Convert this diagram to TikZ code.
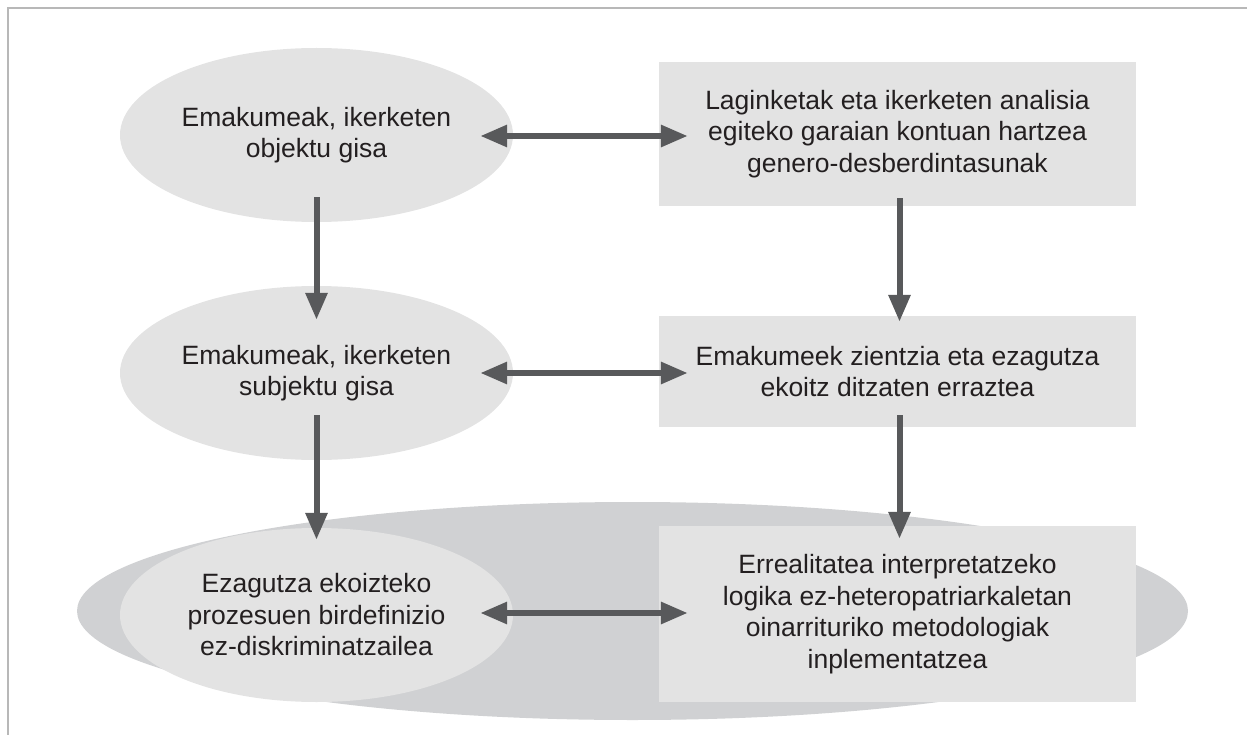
\documentclass[tikz,border=0pt]{standalone}
\usepackage{fontspec}
\setmainfont{Liberation Sans}
\usetikzlibrary{arrows.meta,shapes.geometric}
\definecolor{lightfill}{HTML}{E3E3E3}
\definecolor{darkfill}{HTML}{D0D1D3}
\definecolor{arrowgrey}{HTML}{58595B}
\definecolor{textgrey}{HTML}{231F20}
\definecolor{framegrey}{HTML}{B8B8B8}
\begin{document}
\begin{tikzpicture}[x=1pt,y=-1pt,
  txt/.style={align=center, text=textgrey, font=\fontsize{26.5}{31.5}\selectfont},
  ell/.style={txt, ellipse, fill=lightfill, minimum width=393pt, minimum height=174pt, inner sep=0pt},
  box/.style={txt, rectangle, fill=lightfill, minimum width=477pt, inner sep=0pt},
  arr/.style={draw=arrowgrey, line width=6pt, -{Triangle[length=27pt,width=21pt]}},
  darr/.style={draw=arrowgrey, line width=6pt, {Triangle[length=27pt,width=21pt]}-{Triangle[length=27pt,width=21pt]}}]
\useasboundingbox (0,0) rectangle (1247,735);
\draw[framegrey, line width=1.5pt] (8,735) -- (8,8) -- (1247,8);
\node[ellipse, fill=darkfill, minimum width=1111pt, minimum height=218pt, inner sep=0pt] (big) at (632.5,611) {};
\node[ell] (e1) at (316.5,135) {Emakumeak, ikerketen\\objektu gisa};
\node[ell] (e2) at (316.5,373) {Emakumeak, ikerketen\\subjektu gisa};
\node[ell] (e3) at (316.5,615) {Ezagutza ekoizteko\\prozesuen birdefinizio\\ez-diskriminatzailea};
\node[box, minimum height=144pt] (r1) at (897.5,134) {Laginketak eta ikerketen analisia\\egiteko garaian kontuan hartzea\\genero-desberdintasunak};
\node[box, minimum height=111pt] (r2) at (897.5,371.5) {Emakumeek zientzia eta ezagutza\\ekoitz ditzaten erraztea};
\node[box, minimum height=176pt] (r3) at (897.5,614) {Errealitatea interpretatzeko\\logika ez-heteropatriarkaletan\\oinarrituriko metodologiak\\inplementatzea};
\draw[arr] ([yshift=25pt]e1.south) -- ([yshift=-34pt]e2.north);
\draw[arr] ([yshift=45pt]e2.south) -- ([yshift=-12pt]e3.north);
\draw[arr] ([xshift=2pt,yshift=8pt]r1.south) -- ([xshift=2pt,yshift=-6pt]r2.north);
\draw[arr] ([xshift=2pt,yshift=12pt]r2.south) -- ([xshift=2pt,yshift=-13pt]r3.north);
\draw[darr] ([xshift=-33pt,yshift=-1pt]e1.east) -- ([xshift=29pt,yshift=-2pt]r1.west);
\draw[darr] ([xshift=-33pt,yshift=0pt]e2.east) -- ([xshift=29pt,yshift=-1.5pt]r2.west);
\draw[darr] ([xshift=-33pt,yshift=2pt]e3.east) -- ([xshift=29pt,yshift=1pt]r3.west);
\end{tikzpicture}
\end{document}
